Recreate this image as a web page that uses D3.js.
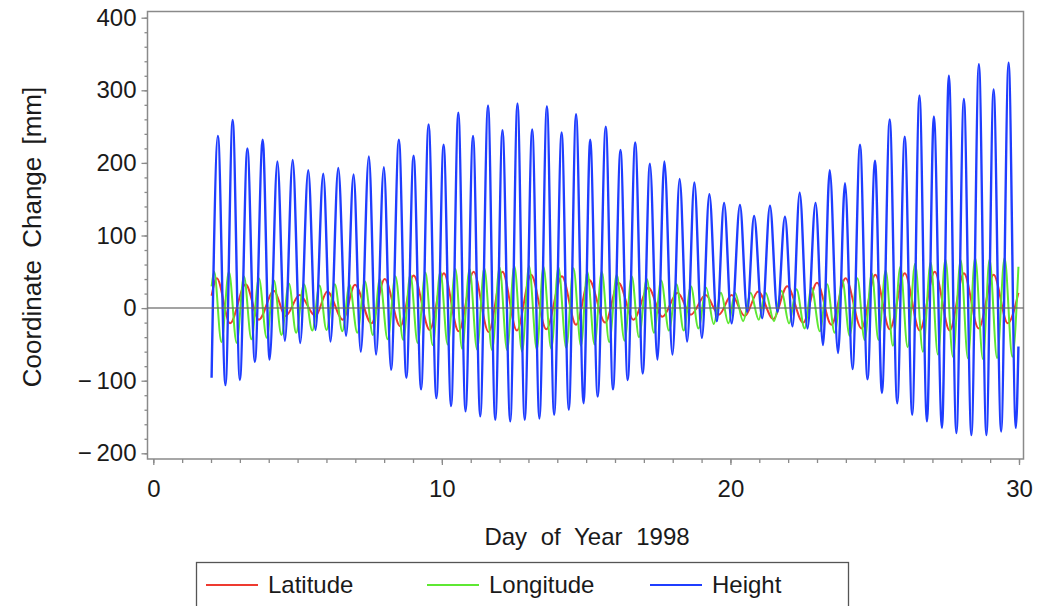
<!DOCTYPE html>
<html>
<head>
<meta charset="utf-8">
<script src="https://cdn.jsdelivr.net/npm/d3@7"></script>
<style>
  body { margin: 0; background: #fff; }
  text { font-family: "Liberation Sans", Arial, sans-serif; fill: #1a1a1a; }
</style>
</head>
<body>
<div id="chart"></div>
<script>
// extrema: [day, mm]
var latitude = [[2.02,17],[2.20,41],[2.66,-21],[3.20,33],[3.66,-16],[4.18,24],[4.58,-11],[5.07,18],[5.62,-11],[6.03,23],[6.57,-16],[6.99,32],[7.56,-21],[8.02,40],[8.56,-25],[9.02,45],[9.58,-30],[10.07,48],[10.58,-32],[11.10,50],[11.62,-33],[12.10,50],[12.60,-31],[13.09,46],[13.62,-29],[14.16,44],[14.65,-23],[15.10,39],[15.66,-20],[16.12,35],[16.64,-16],[17.16,28],[17.64,-12],[18.17,21],[18.63,-9],[19.14,18],[19.60,-9],[20.04,18],[20.50,-11],[20.96,23],[21.48,-15],[21.97,30],[22.52,-20],[23.00,35],[23.50,-23],[23.99,41],[24.54,-28],[25.02,46],[25.52,-29],[26.04,48],[26.56,-31],[27.08,50],[27.60,-31],[28.09,48],[28.60,-28],[29.12,46],[29.61,-21],[29.98,21]];

var longitude = [[2.02,30],[2.11,50],[2.36,-47],[2.62,50],[2.89,-48],[3.14,44],[3.40,-43],[3.66,41],[3.93,-41],[4.18,38],[4.44,-37],[4.70,34],[4.95,-34],[5.22,33],[5.51,-31],[5.76,31],[6.00,-30],[6.29,33],[6.55,-32],[6.80,32],[7.07,-34],[7.33,37],[7.61,-37],[7.85,40],[8.12,-43],[8.39,44],[8.66,-44],[8.91,46],[9.16,-48],[9.43,49],[9.68,-51],[9.95,50],[10.20,-50],[10.47,54],[10.70,-56],[10.96,54],[11.22,-57],[11.47,55],[11.74,-58],[12.00,56],[12.26,-58],[12.51,58],[12.78,-60],[13.02,58],[13.29,-57],[13.52,57],[13.79,-56],[14.04,56],[14.31,-55],[14.56,55],[14.82,-52],[15.04,50],[15.29,-50],[15.54,50],[15.80,-47],[16.06,46],[16.33,-45],[16.58,44],[16.83,-40],[17.10,40],[17.35,-34],[17.60,38],[17.87,-31],[18.13,33],[18.38,-31],[18.63,30],[18.89,-28],[19.16,28],[19.42,-22],[19.67,21],[19.93,-21],[20.16,21],[20.44,-18],[20.70,21],[20.98,-16],[21.22,21],[21.51,-18],[21.77,24],[22.03,-21],[22.29,26],[22.57,-28],[22.81,28],[23.10,-32],[23.35,33],[23.61,-34],[23.88,38],[24.13,-38],[24.40,41],[24.65,-44],[24.90,48],[25.13,-44],[25.38,52],[25.63,-52],[25.89,57],[26.14,-54],[26.40,61],[26.67,-60],[26.94,63],[27.19,-64],[27.45,67],[27.71,-67],[27.98,66],[28.23,-69],[28.48,69],[28.75,-70],[28.98,67],[29.24,-69],[29.50,69],[29.77,-67],[29.98,57]];

var height = [[2.02,-96],[2.24,237],[2.50,-106],[2.75,259],[3.00,-99],[3.26,220],[3.52,-74],[3.79,232],[4.03,-71],[4.30,202],[4.56,-45],[4.83,204],[5.09,-48],[5.37,190],[5.62,-30],[5.89,185],[6.14,-46],[6.41,193],[6.68,-38],[6.94,184],[7.19,-60],[7.47,209],[7.72,-64],[7.99,194],[8.24,-85],[8.51,232],[8.77,-96],[9.02,210],[9.28,-112],[9.54,253],[9.81,-124],[10.06,225],[10.32,-135],[10.57,269],[10.82,-142],[11.08,237],[11.33,-149],[11.60,279],[11.85,-154],[12.10,245],[12.37,-156],[12.62,282],[12.87,-154],[13.13,246],[13.38,-152],[13.64,278],[13.89,-147],[14.15,242],[14.40,-140],[14.65,267],[14.91,-131],[15.14,232],[15.40,-122],[15.68,250],[15.93,-112],[16.19,218],[16.44,-99],[16.70,228],[16.96,-90],[17.21,199],[17.47,-71],[17.71,202],[17.99,-64],[18.24,178],[18.50,-46],[18.75,173],[19.01,-41],[19.27,157],[19.53,-18],[19.78,145],[20.04,-21],[20.33,142],[20.58,-5],[20.82,127],[21.10,-14],[21.37,141],[21.63,-5],[21.89,126],[22.15,-25],[22.40,159],[22.67,-28],[22.95,145],[23.21,-51],[23.44,190],[23.73,-62],[23.97,172],[24.23,-84],[24.49,225],[24.75,-98],[25.01,203],[25.25,-117],[25.52,260],[25.78,-131],[26.04,236],[26.30,-147],[26.55,293],[26.81,-156],[27.05,264],[27.33,-165],[27.57,320],[27.83,-172],[28.09,288],[28.35,-175],[28.61,336],[28.87,-175],[29.12,301],[29.38,-170],[29.64,338],[29.89,-165],[29.98,-53]];

var xTicks = [0, 10, 20, 30];
var yTicks = [-200, -100, 0, 100, 200, 300, 400];
var seriesNames = ["Latitude", "Longitude", "Height"];
var seriesColors = ["#ee3a30", "#5ee832", "#1f3dff"];

var W = 1053, H = 606;
var frame = {left: 147.5, top: 11.5, right: 1023.5, bottom: 459};

var svg = d3.select("#chart").append("svg")
    .attr("width", W)
    .attr("height", H);

var x = d3.scaleLinear().domain([0, 30]).range([153.3, 1019]);
var y = d3.scaleLinear().domain([-200, 400]).range([453.3, 17.7]);

// frame
svg.append("rect")
    .attr("x", frame.left).attr("y", frame.top)
    .attr("width", frame.right - frame.left)
    .attr("height", frame.bottom - frame.top)
    .attr("fill", "none")
    .attr("stroke", "#8a8a8a")
    .attr("stroke-width", 1.5);

var fmt = function(d) { return d < 0 ? "\u2212\u2009" + Math.abs(d) : d; };

// y axis (minor then major)
svg.append("g")
    .attr("transform", "translate(" + frame.left + ",0)")
    .call(d3.axisLeft(y).tickValues(d3.range(-200, 401, 20)).tickSize(3).tickFormat(""))
    .call(g => g.select(".domain").remove());
svg.append("g")
    .attr("transform", "translate(" + frame.left + ",0)")
    .call(d3.axisLeft(y).tickValues(yTicks).tickSize(6).tickPadding(5).tickFormat(fmt))
    .call(g => g.select(".domain").remove())
    .call(g => g.selectAll("text").style("font-size", "24px").style("fill", "#1a1a1a"));

// x axis
svg.append("g")
    .attr("transform", "translate(0," + frame.bottom + ")")
    .call(d3.axisBottom(x).tickValues(d3.range(0, 31, 1)).tickSize(4).tickFormat(""))
    .call(g => g.select(".domain").remove());
svg.append("g")
    .attr("transform", "translate(0," + frame.bottom + ")")
    .call(d3.axisBottom(x).tickValues(xTicks).tickSize(6).tickPadding(15))
    .call(g => g.select(".domain").remove())
    .call(g => g.selectAll("text").style("font-size", "24px").style("fill", "#1a1a1a"));

svg.selectAll(".tick line").attr("stroke", "#8a8a8a").attr("stroke-width", 1.3);

// series
var line = d3.line()
    .x(d => x(d[0]))
    .y(d => y(d[1]))
    .curve(d3.curveMonotoneX);

[latitude, longitude, height].forEach(function(s, i) {
    svg.append("path")
        .datum(s)
        .attr("fill", "none")
        .attr("stroke", seriesColors[i])
        .attr("stroke-width", i == 2 ? 2.4 : 2)
        .attr("d", line);
});

// zero line
svg.append("line")
    .attr("x1", frame.left).attr("x2", frame.right)
    .attr("y1", y(0)).attr("y2", y(0))
    .attr("stroke", "#666")
    .attr("stroke-opacity", 0.8)
    .attr("stroke-width", 1.5);

// axis titles
svg.append("text")
    .attr("transform", "translate(32,237) rotate(-90)")
    .attr("text-anchor", "middle")
    .attr("dy", "0.35em")
    .style("font-size", "26px")
    .style("word-spacing", "5px")
    .text("Coordinate Change [mm]");

svg.append("text")
    .attr("x", 587).attr("y", 537)
    .attr("text-anchor", "middle")
    .attr("dy", "0.35em")
    .style("font-size", "24px")
    .style("word-spacing", "7px")
    .text("Day of Year 1998");

// legend
var legend = svg.append("g");
legend.append("rect")
    .attr("x", 196.5).attr("y", 562.5)
    .attr("width", 652).attr("height", 60)
    .attr("fill", "none")
    .attr("stroke", "#555")
    .attr("stroke-width", 1.3);

var legX = [206, 427, 650];
seriesNames.forEach(function(name, i) {
    legend.append("line")
        .attr("x1", legX[i]).attr("x2", legX[i] + 52)
        .attr("y1", 585).attr("y2", 585)
        .attr("stroke", seriesColors[i])
        .attr("stroke-width", 1.8);
    legend.append("text")
        .attr("x", legX[i] + 62).attr("y", 585)
        .attr("dy", "0.35em")
        .style("font-size", "24px")
        .text(name);
});
</script>
</body>
</html>
